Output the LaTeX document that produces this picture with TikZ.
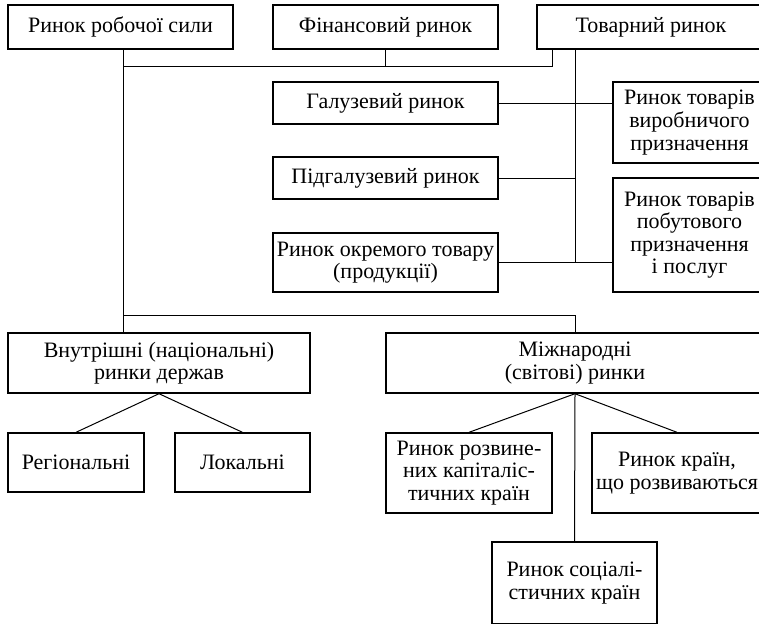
\documentclass[tikz,border=0pt]{standalone}
\usepackage{fontspec}
\setmainfont{Liberation Serif}
\begin{document}
\begin{tikzpicture}[
    x=0.5pt, y=-0.5pt,
    font=\fontsize{11}{11.3}\selectfont,
    rynok/.style={
        draw,
        line width=0.7pt,
        inner sep=1pt,
        align=center,
        minimum width=112.5pt,
        minimum height=22pt
    },
    zvjazok/.style={line width=0.5pt}
]
    \useasboundingbox (0,0) rectangle (759,623);
    \clip (0,0) rectangle (759,623);

    \node[rynok] (robocha) at (120.5,27) {Ринок робочої сили};
    \node[rynok] (finansovyi) at (385.5,27) {Фінансовий ринок};
    \node[rynok, minimum width=114pt] (tovarnyi) at (651,27) {Товарний ринок};

    \node[rynok, minimum height=21pt] (haluzevyi) at (385.5,103) {Галузевий ринок};
    \node[rynok, minimum height=21pt] (pidhaluzevyi) at (385.5,178) {Підгалузевий ринок};
    \node[rynok, minimum height=29.5pt] (okremyi) at (385.5,262.5) {Ринок окремого товару\\(продукції)};
    \node[rynok, minimum width=76.5pt, minimum height=40.5pt] (vyrobnychi) at (689.5,122.5)
        {Ринок товарів\\виробничого\\призначення};
    \node[rynok, minimum width=76.5pt, minimum height=57pt] (pobutovi) at (689.5,235)
        {Ринок товарів\\побутового\\призначення\\і послуг};

    \node[rynok, minimum width=151pt, minimum height=30pt] (vnutrishni) at (159,363)
        {Внутрішні (національні)\\ринки держав};
    \node[rynok, minimum width=189pt, minimum height=30pt] (mizhnarodni) at (575,363)
        {Міжнародні\\(світові) ринки};

    \node[rynok, minimum width=68pt, minimum height=29.5pt] (regionalni) at (76,462.5) {Регіональні};
    \node[rynok, minimum width=67.5pt, minimum height=29.5pt] (lokalni) at (242.5,462.5) {Локальні};
    \node[rynok, minimum width=83pt, minimum height=40pt] (rozvyneni) at (469,473)
        {Ринок розвине-\\них капіталіс-\\тичних країн};
    \node[rynok, minimum width=85pt, minimum height=40pt] (rozvyvajutsja) at (677,473)
        {Ринок країн,\\що розвиваються};
    \node[rynok, minimum width=82.5pt, minimum height=41pt] (socialistychni) at (574.5,583)
        {Ринок соціалі-\\стичних країн};

    % верхня шина
    \coordinate (vuzol-verh) at (123,66);
    \coordinate (tovar-vyhid) at (552,66);
    \coordinate (vuzol-niz) at (123,315);
    \coordinate (stovp) at (575,66);

    \draw[zvjazok] (robocha.south -| vuzol-verh) -- (vnutrishni.north -| vuzol-verh);
    \draw[zvjazok] (vuzol-verh) -- (tovar-vyhid) -- (tovar-vyhid |- tovarnyi.south);
    \draw[zvjazok] (finansovyi.south) -- (finansovyi.south |- vuzol-verh);

    % товарний ринок
    \draw[zvjazok] (tovarnyi.south -| stovp) -- (okremyi.east -| stovp);
    \draw[zvjazok] (haluzevyi.east) -- (haluzevyi.east -| vyrobnychi.west);
    \draw[zvjazok] (pidhaluzevyi.east) -- (pidhaluzevyi.east -| stovp);
    \draw[zvjazok] (okremyi.east) -- (okremyi.east -| pobutovi.west);

    % нижня шина
    \draw[zvjazok] (vuzol-niz) -| (mizhnarodni.north);
    \draw[zvjazok] (vnutrishni.south) -- (regionalni.north);
    \draw[zvjazok] (vnutrishni.south) -- (lokalni.north);
    \draw[zvjazok] (mizhnarodni.south) -- (rozvyneni.north);
    \draw[zvjazok] (mizhnarodni.south) -- (rozvyvajutsja.north);
    \draw[zvjazok] (mizhnarodni.south) -- (socialistychni.north);
\end{tikzpicture}
\end{document}
